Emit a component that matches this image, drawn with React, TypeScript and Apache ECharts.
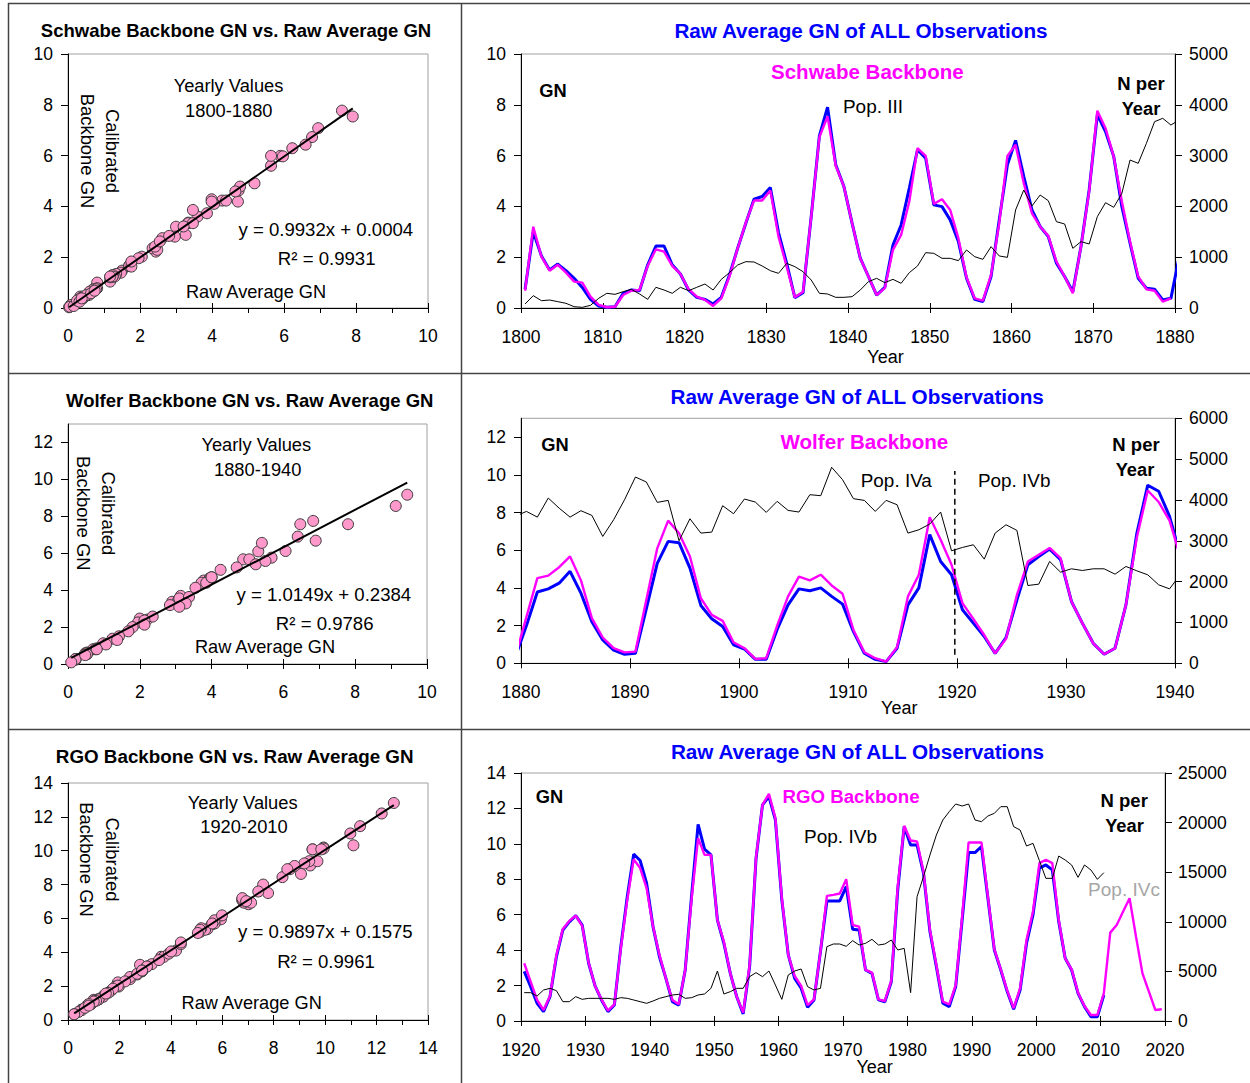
import React, { useEffect, useRef } from 'react';
import * as echarts from 'echarts';

const FONT = "'Liberation Sans', Arial, Helvetica, sans-serif";

// ---------------- DATA ----------------
// Panel row 1: 1800-1880 (values at mid-year, first point 1800.5)
const TOP_START = 1800.5;
const TOP_RAW = [
  0.74, 3.0, 2.05, 1.5, 1.73, 1.47, 1.17, 0.81, 0.34, 0.08,
  0.03, 0.05, 0.58, 0.71, 0.68, 1.7, 2.44, 2.44, 1.7, 1.34,
  0.71, 0.42, 0.34, 0.16, 0.42, 1.3, 2.35, 3.34, 4.28, 4.39,
  4.74, 2.97, 1.76, 0.41, 0.6, 3.6, 6.78, 7.91, 5.64, 4.78,
  3.34, 1.96, 1.24, 0.51, 0.81, 2.48, 3.27, 4.72, 6.23, 5.9,
  4.06, 3.99, 3.47, 2.62, 1.17, 0.34, 0.25, 1.24, 3.47, 5.64,
  6.6, 5.18, 3.86, 3.21, 2.81, 1.76, 1.24, 0.64, 2.42, 4.65,
  7.61, 6.95, 5.97, 3.99, 2.55, 1.17, 0.78, 0.74, 0.32, 0.38,
  2.0,
];
const TOP_SCHWABE = [
  0.68, 3.2, 2.02, 1.47, 1.7, 1.39, 1.04, 1.0, 0.45, 0.12,
  0.03, 0.05, 0.51, 0.68, 0.71, 1.66, 2.31, 2.22, 1.66, 1.34,
  0.74, 0.45, 0.32, 0.08, 0.38, 1.24, 2.35, 3.36, 4.23, 4.23,
  4.63, 2.81, 1.63, 0.42, 0.64, 3.6, 6.73, 7.54, 5.6, 4.78,
  3.34, 1.96, 1.24, 0.51, 0.78, 2.29, 2.88, 4.19, 6.29, 5.99,
  4.1, 4.28, 3.86, 2.75, 1.21, 0.38, 0.29, 1.3, 3.34, 5.99,
  6.43, 4.91, 3.73, 3.21, 2.84, 1.83, 1.24, 0.58, 2.42, 4.59,
  7.77, 7.08, 5.97, 4.19, 2.62, 1.24, 0.74, 0.68, 0.25, 0.38,
];
const TOP_N = [
  79, 243, 144, 157, 125, 92, 26, 13, 52, 190,
  289, 269, 322, 367, 276, 171, 407, 354, 289, 407,
  341, 407, 472, 354, 564, 696, 846, 912, 906, 827,
  735, 682, 879, 814, 715, 551, 289, 276, 210, 210,
  223, 354, 518, 584, 499, 564, 486, 696, 827, 1089,
  1076, 978, 978, 932, 1142, 1010, 958, 1207, 1024, 997,
  1929, 2323, 2008, 2224, 2113, 1699, 1654, 1175, 1306, 1260,
  1798, 2073, 1982, 2257, 2913, 2848, 3241, 3668, 3734, 3602,
  3701,
];

// Panel row 2: 1880-1940 (first point 1879.5, clipped by the axis)
const MID_START = 1879.5;
const MID_RAW = [
  0.38,
  2.0, 3.78, 3.95, 4.25, 4.88, 3.72, 2.2, 1.24, 0.7, 0.48,
  0.53, 2.9, 5.3, 6.47, 6.4, 5.05, 3.07, 2.36, 1.95, 0.98,
  0.76, 0.21, 0.21, 1.8, 3.1, 3.95, 3.85, 4.0, 3.55, 3.14,
  1.68, 0.53, 0.21, 0.09, 0.8, 3.1, 4.0, 6.83, 5.4, 4.7,
  2.84, 2.13, 1.42, 0.53, 1.37, 3.37, 5.23, 5.67, 6.06, 5.5,
  3.28, 2.13, 1.06, 0.48, 0.8, 3.1, 6.9, 9.45, 9.13, 7.8,
  5.7,
];
const MID_WOLFER = [
  0.4,
  2.46, 4.52, 4.65, 5.1, 5.67, 4.4, 2.4, 1.37, 0.8, 0.58,
  0.62, 3.37, 6.1, 7.57, 6.9, 5.67, 3.45, 2.57, 2.25, 1.12,
  0.8, 0.23, 0.27, 2.0, 3.55, 4.6, 4.4, 4.7, 4.13, 3.69,
  1.77, 0.59, 0.27, 0.09, 0.85, 3.55, 4.7, 7.75, 6.56, 5.23,
  3.19, 2.36, 1.5, 0.53, 1.3, 3.63, 5.4, 5.76, 6.12, 5.58,
  3.28, 2.13, 1.06, 0.48, 0.8, 3.1, 6.68, 9.17, 8.56, 7.57,
  5.63,
];
const MID_N = [
  3602,
  3720, 3580, 4047, 3800, 3580, 3737, 3622, 3107, 3516, 4006,
  4562, 4440, 3941, 3990, 3000, 3540, 3189, 3213, 3859, 3663,
  4023, 3949, 3696, 3966, 3745, 3704, 4129, 4105, 4800, 4497,
  4031, 3990, 3720, 3990, 3884, 3189, 3270, 3410, 3704, 2755,
  2837, 2903, 2551, 3189, 3393, 3254, 1905, 1938, 2494, 2232,
  2314, 2273, 2314, 2314, 2183, 2371, 2265, 2167, 1922, 1823,
  2180,
];
const POP_SPLIT_YEAR = 1919.8;
const POP_SPLIT_GN = [0.45, 10.2];

// Panel row 3: 1920-2020 (first point 1920.5)
const BOT_START = 1920.5;
const BOT_RAW = [
  2.8, 1.94, 1.0, 0.53, 1.37, 3.63, 5.14, 5.6, 5.95, 5.42,
  3.26, 1.98, 1.19, 0.53, 0.9, 4.2, 7.02, 9.42, 9.06, 7.78,
  5.33, 3.63, 2.41, 1.09, 0.9, 2.88, 7.12, 11.1, 9.7, 9.38,
  5.7, 4.39, 2.69, 1.37, 0.4, 3.07, 9.19, 12.2, 12.67, 11.36,
  6.84, 3.73, 2.41, 1.85, 0.77, 1.19, 3.92, 6.78, 6.78, 6.78,
  7.59, 5.18, 5.14, 2.88, 2.69, 1.19, 1.09, 2.22, 7.4, 10.98,
  9.94, 9.94, 8.34, 5.05, 3.07, 1.0, 0.81, 1.94, 5.7, 9.51,
  9.51, 9.85, 6.93, 4.01, 2.88, 1.66, 0.66, 1.75, 4.39, 5.99,
  8.63, 8.81, 8.53, 5.61, 3.54, 2.88, 1.56, 0.81, 0.24, 0.24,
  1.47,
];
const BOT_RGO = [
  3.26, 2.22, 1.19, 0.62, 1.41, 3.73, 5.2, 5.65, 5.95, 5.37,
  3.3, 1.98, 1.22, 0.58, 0.94, 4.1, 6.84, 9.13, 8.63, 7.5,
  5.33, 3.73, 2.41, 1.19, 0.94, 2.88, 6.93, 10.32, 9.38, 9.38,
  5.7, 4.48, 2.69, 1.37, 0.47, 3.16, 9.25, 12.2, 12.82, 11.45,
  6.93, 3.73, 2.54, 1.98, 0.9, 1.22, 3.92, 7.06, 7.12, 7.2,
  8.0, 5.42, 5.33, 2.88, 2.73, 1.22, 1.13, 2.28, 7.59, 11.02,
  10.19, 10.13, 8.44, 5.14, 3.16, 1.09, 0.94, 2.03, 5.89, 10.08,
  10.08, 10.08, 7.02, 4.05, 2.92, 1.71, 0.72, 1.85, 4.58, 6.18,
  8.91, 9.1, 8.91, 5.7, 3.54, 2.92, 1.6, 0.85, 0.34, 0.34,
  1.56, 4.99, 5.42, 6.18, 6.93, 4.76, 2.69, 1.66, 0.62, 0.66,
];
const BOT_N = [
  2856, 2856, 2520, 3125, 3293, 3058, 1949, 1949, 2453, 2184,
  2285, 2285, 2285, 2285, 2184, 2352, 2285, 2117, 1949, 1781,
  2016, 2285, 2453, 2621, 2688, 2285, 2352, 2621, 2722, 3293,
  5040, 2722, 2957, 3293, 3293, 4469, 4872, 4469, 5040, 3629,
  2184, 4637, 5040, 5242, 3461, 3125, 3293, 7493, 7762, 7762,
  7530, 8098, 7661, 7829, 8233, 7661, 7762, 8165, 7157, 7325,
  2856, 12533, 14550, 16734, 18750, 20262, 21102, 21875, 21673, 21875,
  20262, 20094, 20665, 20934, 21606, 21606, 19590, 19254, 17641, 17910,
  16162, 14382, 14382, 16633, 16230, 15726, 14483, 15726, 15222, 14281,
  14953,
];

// regression constants as printed on the chart
const FIT_TOP_SLOPE = 0.9932, FIT_TOP_INTERCEPT = 0.0004;
const FIT_MID_SLOPE = 1.0149, FIT_MID_INTERCEPT = 0.2384;
const FIT_BOT_SLOPE = 0.9897, FIT_BOT_INTERCEPT = 0.1575;

// axis ticks
const Y13_TICKS = [0, 2, 4, 6, 8, 10, 12];

// ---------------- helpers ----------------
const toSeries = (start: number, vals: number[]) => vals.map((v, i) => [start + i, v]);
const toPairs = (start: number, xs: number[], ys: number[], from: number, to: number) => {
  const out: number[][] = [];
  const n = Math.min(xs.length, ys.length);
  for (let i = 0; i < n; i++) {
    const yr = start + i;
    if (yr > from && yr < to) out.push([xs[i], ys[i]]);
  }
  return out;
};
const fitLine = (pairs: number[][], a: number, b: number) => {
  const xs = pairs.map((p) => p[0]);
  const x0 = Math.min(...xs);
  const x1 = Math.max(...xs);
  return [[x0, a * x0 + b], [x1, a * x1 + b]];
};

const LABEL = { color: '#000', fontSize: 17.5, fontFamily: FONT };
const fmt = (v: number) => String(v);

function xMain(grid: number, min: number, max: number, interval: number, minor: boolean, margin: number) {
  return {
    type: 'value', gridIndex: grid, min, max, interval, position: 'bottom',
    axisLine: { show: true, onZero: false, lineStyle: { color: '#000', width: 1 } },
    axisTick: { show: true, length: 5, lineStyle: { color: '#000', width: 1 } },
    minorTick: minor ? { show: true, splitNumber: 2, length: 5, lineStyle: { color: '#000', width: 1 } } : { show: false },
    axisLabel: { ...LABEL, margin, formatter: fmt },
    splitLine: { show: false },
    minorSplitLine: { show: false },
  };
}
function xOverlay(grid: number, min: number, max: number, interval: number) {
  return {
    type: 'value', gridIndex: grid, min, max, interval, position: 'bottom',
    axisLine: { show: false, onZero: false },
    axisTick: { show: true, inside: true, length: 5, lineStyle: { color: '#000', width: 1 } },
    axisLabel: { show: false },
    splitLine: { show: false },
  };
}
function yAx(grid: number, min: number, max: number, interval: number, position: string, margin: number, custom?: number[]) {
  const tick: any = { show: true, length: 7, lineStyle: { color: '#000', width: 1 } };
  const label: any = { ...LABEL, margin, formatter: fmt };
  if (custom) { tick.customValues = custom; label.customValues = custom; }
  return {
    type: 'value', gridIndex: grid, min, max, interval, position,
    axisLine: { show: true, onZero: false, lineStyle: { color: '#000', width: 1 } },
    axisTick: tick,
    axisLabel: label,
    splitLine: { show: false },
  };
}

function txt(x: number, y: number, text: string, size: number, o: any = {}) {
  return {
    type: 'text', x, y, rotation: o.rotation || 0, z: 100,
    style: {
      text, fontSize: size, fontWeight: o.bold ? 'bold' : 'normal', fontFamily: FONT,
      fill: o.color || '#000', align: 'center', verticalAlign: 'middle',
      lineHeight: o.lineHeight || undefined,
    },
  };
}
function hline(x1: number, y1: number, x2: number, y2: number) {
  return { type: 'line', z: 100, shape: { x1, y1, x2, y2 }, style: { stroke: '#444', lineWidth: 1.5 } };
}

const GRID_STYLE = { show: true, borderColor: '#a0a0a0', borderWidth: 1, backgroundColor: 'transparent', outerBoundsMode: 'none', containLabel: false };

function scatterSeries(xi: number, yi: number, pairs: number[][]) {
  return {
    type: 'scatter', xAxisIndex: xi, yAxisIndex: yi, data: pairs, symbol: 'circle', symbolSize: 11,
    itemStyle: { color: '#ff99cc', borderColor: '#3a3a3a', borderWidth: 1, opacity: 1 }, z: 2,
  };
}
function fitSeries(xi: number, yi: number, pts: number[][]) {
  return { type: 'line', xAxisIndex: xi, yAxisIndex: yi, data: pts, symbol: 'none', lineStyle: { color: '#000', width: 2 }, z: 3 };
}
function lineSeries(xi: number, yi: number, data: number[][], color: string, width: number, z: number) {
  return { type: 'line', xAxisIndex: xi, yAxisIndex: yi, data, symbol: 'none', showSymbol: false, lineStyle: { color, width }, z, clip: true };
}

export default function App() {
  const ref = useRef<HTMLDivElement>(null);
  useEffect(() => {
    if (!ref.current) return;
    const chart = echarts.init(ref.current, undefined, { renderer: 'svg' });

    const topPairs = toPairs(TOP_START, TOP_RAW, TOP_SCHWABE, 1800, 1880);
    const midPairs = toPairs(MID_START, MID_RAW, MID_WOLFER, 1880, 1940);
    const botPairs = toPairs(BOT_START, BOT_RAW, BOT_RGO, 1920, 2011);

    const option: any = {
      animation: false,
      backgroundColor: '#fff',
      textStyle: { fontFamily: FONT },
      grid: [
        { left: 68, top: 54, width: 360, height: 254, ...GRID_STYLE },
        { left: 521, top: 54, width: 654, height: 254, ...GRID_STYLE },
        { left: 68, top: 424, width: 359, height: 240, ...GRID_STYLE },
        { left: 521, top: 418.3, width: 654, height: 245, ...GRID_STYLE },
        { left: 68, top: 783, width: 360, height: 237, ...GRID_STYLE },
        { left: 521, top: 773, width: 644, height: 248, ...GRID_STYLE },
      ],
      xAxis: [
        xMain(0, 0, 10, 2, true, 19), xOverlay(0, 0, 10, 2),
        xMain(1, 1800, 1880, 10, false, 20), xOverlay(1, 1800, 1880, 10),
        xMain(2, 0, 10, 2, true, 19), xOverlay(2, 0, 10, 2),
        xMain(3, 1880, 1940, 10, false, 20), xOverlay(3, 1880, 1940, 10),
        xMain(4, 0, 14, 2, true, 19), xOverlay(4, 0, 14, 2),
        xMain(5, 1920, 2020, 10, false, 20), xOverlay(5, 1920, 2020, 10),
      ],
      yAxis: [
        yAx(0, 0, 10, 2, 'left', 15),
        yAx(1, 0, 10, 2, 'left', 15), yAx(1, 0, 5000, 1000, 'right', 14),
        yAx(2, 0, 13, 2, 'left', 15, Y13_TICKS),
        yAx(3, 0, 13, 2, 'left', 15, Y13_TICKS), yAx(3, 0, 6000, 1000, 'right', 14),
        yAx(4, 0, 14, 2, 'left', 15),
        yAx(5, 0, 14, 2, 'left', 15), yAx(5, 0, 25000, 5000, 'right', 13),
      ],
      series: [
        scatterSeries(0, 0, topPairs),
        fitSeries(0, 0, fitLine(topPairs, FIT_TOP_SLOPE, FIT_TOP_INTERCEPT)),
        lineSeries(2, 1, toSeries(TOP_START, TOP_RAW), '#0000ff', 3, 2),
        lineSeries(2, 1, toSeries(TOP_START, TOP_SCHWABE), '#ff00ff', 2.4, 3),
        lineSeries(2, 2, toSeries(TOP_START, TOP_N), '#000000', 1, 4),

        scatterSeries(4, 3, midPairs),
        fitSeries(4, 3, fitLine(midPairs, FIT_MID_SLOPE, FIT_MID_INTERCEPT)),
        lineSeries(6, 4, toSeries(MID_START, MID_RAW), '#0000ff', 3, 2),
        lineSeries(6, 4, toSeries(MID_START, MID_WOLFER), '#ff00ff', 2.4, 3),
        lineSeries(6, 5, toSeries(MID_START, MID_N), '#000000', 1, 4),
        {
          type: 'line', xAxisIndex: 6, yAxisIndex: 4, symbol: 'none', z: 5,
          data: POP_SPLIT_GN.map((g) => [POP_SPLIT_YEAR, g]),
          lineStyle: { color: '#000', width: 1.5, type: [6, 4] },
        },

        scatterSeries(8, 6, botPairs),
        fitSeries(8, 6, fitLine(botPairs, FIT_BOT_SLOPE, FIT_BOT_INTERCEPT)),
        lineSeries(10, 7, toSeries(BOT_START, BOT_RAW), '#0000ff', 3, 2),
        lineSeries(10, 7, toSeries(BOT_START, BOT_RGO), '#ff00ff', 2.4, 3),
        lineSeries(10, 8, toSeries(BOT_START, BOT_N), '#000000', 1, 4),
      ],
      graphic: [
        // frame
        hline(8, 3.5, 1250, 3.5),
        hline(8.5, 3, 8.5, 1083),
        hline(461.5, 3, 461.5, 1083),
        hline(8, 373.5, 1250, 373.5),
        hline(8, 729.5, 1250, 729.5),

        // panel 1
        txt(236, 30, 'Schwabe Backbone GN vs. Raw Average GN', 18.5, { bold: true }),
        txt(228.5, 85, 'Yearly Values', 18.3),
        txt(228.8, 110.7, '1800-1880', 18.3),
        txt(99.5, 151, 'Calibrated\nBackbone GN', 18.4, { rotation: -Math.PI / 2, lineHeight: 25 }),
        txt(325.8, 229.3, 'y = 0.9932x + 0.0004', 18.6),
        txt(326.7, 258.3, 'R\u00b2 = 0.9931', 18.6),
        txt(256, 291.7, 'Raw Average GN', 18.2),

        // panel 2
        txt(861, 30.5, 'Raw Average GN of ALL Observations', 20.7, { bold: true, color: '#0000ff' }),
        txt(867.3, 71.7, 'Schwabe Backbone', 20.5, { bold: true, color: '#ff00ff' }),
        txt(553, 90, 'GN', 18.3, { bold: true }),
        txt(873, 106, 'Pop. III', 19),
        txt(1141, 83, 'N per', 18.5, { bold: true }),
        txt(1141, 108, 'Year', 18.3, { bold: true }),
        txt(885.5, 356.5, 'Year', 18),

        // panel 3
        txt(249.7, 400.7, 'Wolfer Backbone GN vs. Raw Average GN', 18.5, { bold: true }),
        txt(256.3, 444, 'Yearly Values', 18.3),
        txt(257.7, 469, '1880-1940', 18.3),
        txt(95.8, 513.3, 'Calibrated\nBackbone GN', 18.4, { rotation: -Math.PI / 2, lineHeight: 25 }),
        txt(323.8, 594, 'y = 1.0149x + 0.2384', 18.6),
        txt(324.7, 623.3, 'R\u00b2 = 0.9786', 18.6),
        txt(265, 646.7, 'Raw Average GN', 18.2),

        // panel 4
        txt(857.2, 396.7, 'Raw Average GN of ALL Observations', 20.7, { bold: true, color: '#0000ff' }),
        txt(555, 444, 'GN', 18.3, { bold: true }),
        txt(864.4, 441.7, 'Wolfer Backbone', 20.6, { bold: true, color: '#ff00ff' }),
        txt(896.3, 480.3, 'Pop. IVa', 18.9),
        txt(1014.2, 480.3, 'Pop. IVb', 18.9),
        txt(1136, 444, 'N per', 18.5, { bold: true }),
        txt(1135, 469, 'Year', 18.3, { bold: true }),
        txt(899.3, 707.7, 'Year', 18),

        // panel 5
        txt(234.7, 756.7, 'RGO Backbone GN vs. Raw Average GN', 18.8, { bold: true }),
        txt(242.7, 802.3, 'Yearly Values', 18.3),
        txt(244, 826.7, '1920-2010', 18.3),
        txt(99.3, 859.5, 'Calibrated\nBackbone GN', 18.4, { rotation: -Math.PI / 2, lineHeight: 26 }),
        txt(325.3, 931.7, 'y = 0.9897x + 0.1575', 18.6),
        txt(326, 961, 'R\u00b2 = 0.9961', 18.6),
        txt(251.7, 1003.3, 'Raw Average GN', 18.2),

        // panel 6
        txt(857.5, 751.7, 'Raw Average GN of ALL Observations', 20.7, { bold: true, color: '#0000ff' }),
        txt(549.5, 796, 'GN', 18.3, { bold: true }),
        txt(851, 796.7, 'RGO Backbone', 18.7, { bold: true, color: '#ff00ff' }),
        txt(840.5, 836.7, 'Pop. IVb', 19),
        txt(1124.2, 800.5, 'N per', 18.5, { bold: true }),
        txt(1124.5, 825.5, 'Year', 18.3, { bold: true }),
        txt(1124, 889, 'Pop. IVc', 19, { color: '#a6a6a6' }),
        txt(874.6, 1067.3, 'Year', 18),
      ],
    };
    chart.setOption(option);
    return () => chart.dispose();
  }, []);
  return (
    <div
      ref={ref}
      style={{ position: 'absolute', left: 0, top: 0, width: 1250, height: 1083, background: '#fff' }}
    />
  );
}
